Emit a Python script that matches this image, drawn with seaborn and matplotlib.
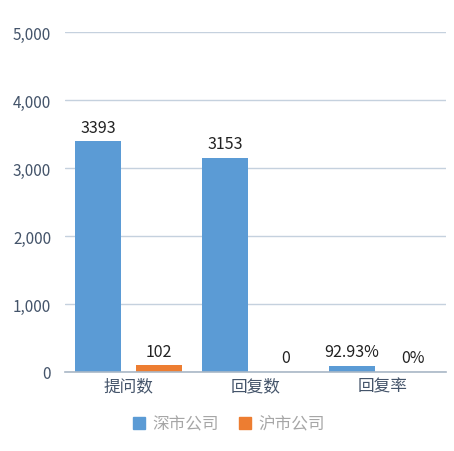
import matplotlib
matplotlib.use("Agg")
import matplotlib.pyplot as plt
import seaborn as sns
import pandas as pd
from matplotlib.ticker import FuncFormatter
from matplotlib.lines import Line2D

categories = ["提问数", "回复数", "回复率"]
series_names = ["深市公司", "沪市公司"]
sz_values = [3393, 3153, 92.93]
sh_values = [102, 0, 0]
sz_labels = ["3393", "3153", "92.93%"]
sh_labels = ["102", "0", "0%"]
colors = ["#5B9BD5", "#ED7D31"]

sns.set_theme(style="white")
plt.rcParams["font.family"] = ["Noto Sans CJK SC", "DejaVu Sans"]

df = pd.DataFrame({
    "cat": categories * 2,
    "series": [series_names[0]] * 3 + [series_names[1]] * 3,
    "value": sz_values + sh_values,
})

fig = plt.figure(figsize=(4.54, 4.52), dpi=100)
ax = fig.add_axes([65/454, 1-373/452, (446-65)/454, (373-33)/452])

sns.barplot(data=df, x="cat", y="value", hue="series", palette=colors,
            order=categories, hue_order=series_names, width=0.96, gap=0.245,
            ax=ax, legend=False, saturation=1, edgecolor="none")

ax.set_ylim(0, 5000)
ax.set_yticks([0, 1000, 2000, 3000, 4000, 5000])
ax.yaxis.set_major_formatter(FuncFormatter(lambda v, p: f"{int(v):,}"))
ax.grid(axis="y", color="#C5D1DE", linewidth=1)
ax.set_axisbelow(True)
for s in ["top", "right", "left"]:
    ax.spines[s].set_visible(False)
ax.spines["bottom"].set_color("#A9B7C6")
ax.spines["bottom"].set_linewidth(1.2)
ax.tick_params(axis="y", length=0, pad=10, labelsize=11, labelcolor="#44546A")
ax.tick_params(axis="x", length=0, pad=4, labelsize=12, labelcolor="#44546A")
ax.set_xlabel("")
ax.set_ylabel("")

for cont, labs in zip(ax.containers, [sz_labels, sh_labels]):
    ax.bar_label(cont, labels=labs, padding=4, fontsize=11.5, color="#222222")

handles = [Line2D([0], [0], marker="s", linestyle="", markersize=9,
                  markerfacecolor=c, markeredgecolor=c) for c in colors]
fig.legend(handles, series_names, loc="center", bbox_to_anchor=(0.5, 1-425/452),
           ncol=2, frameon=False, fontsize=12, labelcolor="#A6A6A6",
           handletextpad=0.2, columnspacing=1.0, handlelength=1.2)

fig.savefig("out.png", dpi=100)
